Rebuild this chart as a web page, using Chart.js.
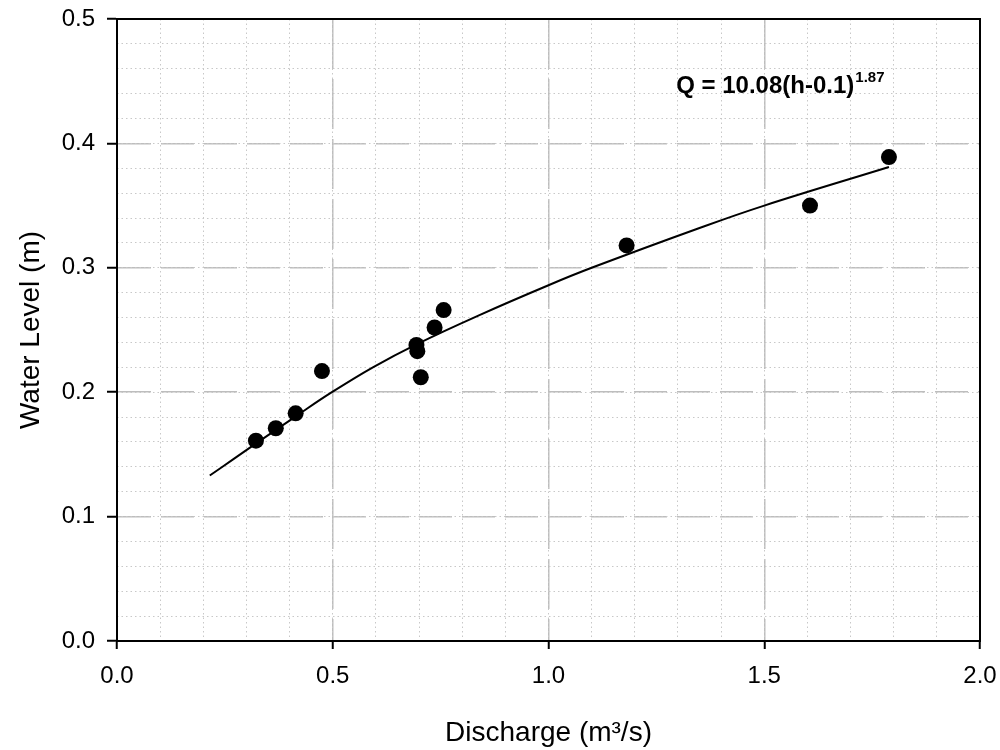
<!DOCTYPE html>
<html lang="en">
<head>
    <meta charset="UTF-8">
    <title>Rating curve</title>
    <script src="https://cdn.jsdelivr.net/npm/chart.js"></script>
    <style>
        html, body { margin: 0; padding: 0; background: #fff; }
        #wrap { width: 1000px; height: 750px; }
    </style>
</head>
<body>
    <div id="wrap"><canvas id="chart" width="1000" height="750"></canvas></div>

    <script>
        // measured discharge / water level pairs
        const dischargeObs = [0.322, 0.368, 0.414, 0.475, 0.694, 0.696, 0.704, 0.736, 0.757, 1.181, 1.606, 1.789];
        const levelObs = [0.161, 0.171, 0.183, 0.217, 0.238, 0.233, 0.212, 0.252, 0.266, 0.318, 0.350, 0.389];

        // fitted rating curve as drawn
        const curveQ = [0.215, 0.269, 0.319, 0.416, 0.498, 0.593, 0.694, 0.840, 1.000, 1.100, 1.350, 1.500, 1.789];
        const curveH = [0.133, 0.146, 0.158, 0.181, 0.200, 0.220, 0.2385, 0.262, 0.286, 0.300, 0.332, 0.350, 0.381];

        const xTicks = [0.0, 0.5, 1.0, 1.5, 2.0];
        const yTicks = [0.0, 0.1, 0.2, 0.3, 0.4, 0.5];

        const equation = { text: 'Q = 10.08(h-0.1)', exp: '1.87', x: 1.296, y: 0.4405 };

        const FONT = "'Liberation Sans', Arial, sans-serif";

        // no extra room for overhanging tick labels, the padding below handles it
        function noPad(s) {
            s.paddingLeft = 0; s.paddingRight = 0; s.paddingTop = 0; s.paddingBottom = 0;
        }

        const framePlugin = {
            id: 'frame',
            beforeDatasetsDraw(chart) {
                const { ctx, chartArea: a } = chart;
                ctx.save();
                ctx.strokeStyle = '#000';
                ctx.lineWidth = 2;
                ctx.strokeRect(a.left, a.top, a.right - a.left, a.bottom - a.top);
                ctx.restore();
            },
            afterDraw(chart) {
                const { ctx } = chart;
                const xs = chart.scales.x, ys = chart.scales.y;
                const px = xs.getPixelForValue(equation.x);
                const py = ys.getPixelForValue(equation.y);
                ctx.save();
                ctx.fillStyle = '#000';
                ctx.textBaseline = 'alphabetic';
                ctx.font = 'bold 24px ' + FONT;
                ctx.fillText(equation.text, px, py);
                const w = ctx.measureText(equation.text).width;
                ctx.font = 'bold 15px ' + FONT;
                ctx.fillText(equation.exp, px + w + 1, py - 11);
                ctx.restore();
            }
        };

        new Chart(document.getElementById('chart'), {
            type: 'scatter',
            data: {
                datasets: [
                    {
                        label: 'Observed',
                        data: dischargeObs.map((q, i) => ({ x: q, y: levelObs[i] })),
                        backgroundColor: '#000',
                        borderWidth: 0,
                        pointRadius: 8
                    },
                    {
                        type: 'line',
                        label: 'Rating curve',
                        data: curveQ.map((q, i) => ({ x: q, y: curveH[i] })),
                        borderColor: '#000',
                        borderWidth: 2,
                        pointRadius: 0,
                        tension: 0.4,
                        fill: false
                    }
                ]
            },
            options: {
                responsive: false,
                animation: false,
                layout: { padding: { left: 0, right: 20, top: 19, bottom: 0 } },
                plugins: {
                    legend: { display: false },
                    tooltip: { enabled: false }
                },
                scales: {
                    x: {
                        type: 'linear',
                        position: 'bottom',
                        min: 0, max: 2,
                        z: -1,
                        afterBuildTicks: s => { s.ticks = xTicks.map(v => ({ value: v })); },
                        afterFit: s => { s.height = 109; noPad(s); },
                        ticks: {
                            padding: 13,
                            color: '#000',
                            font: { family: FONT, size: 24 },
                            callback: v => v.toFixed(1)
                        },
                        grid: { color: '#bdbdbd', lineWidth: 1.5, tickColor: '#000', tickWidth: 2, tickLength: 8 },
                        border: { display: true, color: '#000', width: 2, dash: [50, 10] },
                        title: {
                            display: true,
                            text: 'Discharge (m\u00B3/s)',
                            color: '#000',
                            font: { family: FONT, size: 28 },
                            padding: { top: 0, bottom: 0 }
                        }
                    },
                    y: {
                        type: 'linear',
                        position: 'left',
                        min: 0, max: 0.5,
                        z: -1,
                        afterBuildTicks: s => { s.ticks = yTicks.map(v => ({ value: v })); },
                        afterFit: s => { s.width = 117; noPad(s); },
                        ticks: {
                            padding: 12,
                            color: '#000',
                            font: { family: FONT, size: 24 },
                            callback: v => v.toFixed(1)
                        },
                        grid: { color: '#bdbdbd', lineWidth: 1.5, tickColor: '#000', tickWidth: 2, tickLength: 10 },
                        border: { display: true, color: '#000', width: 2, dash: [33, 10] },
                        title: {
                            display: true,
                            text: 'Water Level (m)',
                            color: '#000',
                            font: { family: FONT, size: 28 },
                            padding: { top: 14, bottom: 0 }
                        }
                    },
                    xMinor: {
                        type: 'linear',
                        position: 'bottom',
                        min: 0, max: 2,
                        z: -2,
                        afterFit: s => { s.height = 0; noPad(s); },
                        ticks: { display: false, stepSize: 0.1 },
                        grid: { color: '#c8c8c8', lineWidth: 1, drawTicks: false },
                        border: { display: false, dash: [1.5, 3] }
                    },
                    yMinor: {
                        type: 'linear',
                        position: 'left',
                        min: 0, max: 0.5,
                        z: -2,
                        afterFit: s => { s.width = 0; noPad(s); },
                        ticks: { display: false, stepSize: 0.02 },
                        grid: { color: '#c8c8c8', lineWidth: 1, drawTicks: false },
                        border: { display: false, dash: [1.5, 3] }
                    }
                }
            },
            plugins: [framePlugin]
        });
    </script>
</body>
</html>
